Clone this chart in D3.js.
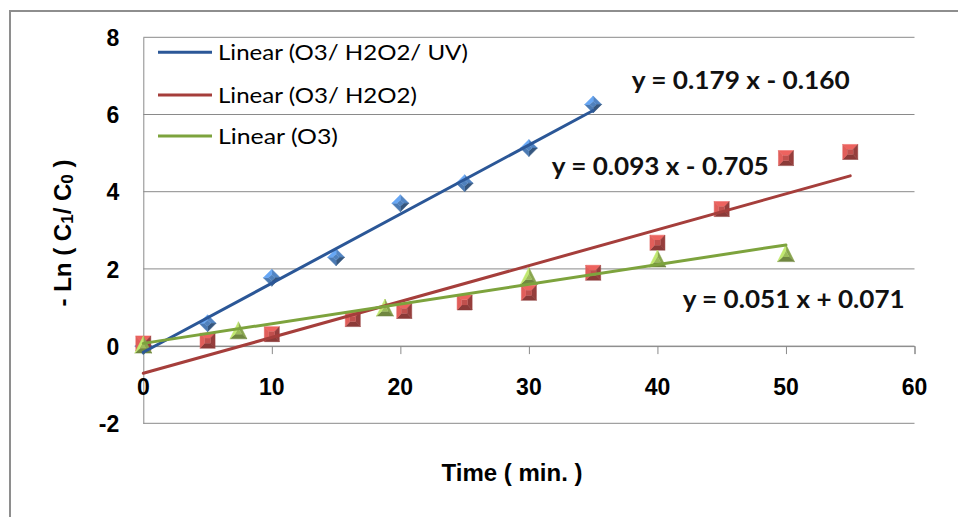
<!DOCTYPE html>
<html>
<head>
<meta charset="utf-8">
<script src="https://cdnjs.cloudflare.com/ajax/libs/d3/7.8.5/d3.min.js"></script>
<style>
    body { margin: 0; background: #fff; }
    svg { display: block; }
    .tick-label { font-family: "Liberation Sans", Arial, sans-serif; font-weight: bold; font-size: 23px; fill: #000; }
    .axis-title { font-family: "Liberation Sans", Arial, sans-serif; font-weight: bold; font-size: 24px; fill: #000; }
    .legend-text { font-family: Lato, "Open Sans", sans-serif; font-size: 22px; fill: #000; }
    .eq-text { font-family: Lato, "Open Sans", sans-serif; font-weight: bold; font-size: 24px; fill: #111; }
</style>
</head>
<body>
<div class="chart-svg"></div>
<script>
// O3 / H2O2 / UV
var timeUV = [0, 5, 10, 15, 20, 25, 30, 35];
var lnUV = [0.0, 0.59, 1.77, 2.30, 3.70, 4.22, 5.13, 6.26];

// O3 / H2O2
var timeH2O2 = [0, 5, 10, 16.3, 20.3, 25, 30, 35, 40, 45, 50, 55];
var lnH2O2 = [0.07, 0.14, 0.31, 0.70, 0.91, 1.13, 1.38, 1.90, 2.68, 3.55, 4.87, 5.03];

// O3
var timeO3 = [0, 7.4, 18.8, 30, 40, 50];
var lnO3 = [0.0, 0.37, 0.96, 1.78, 2.23, 2.37];

// trendlines as printed on the chart
var seriesNames = ["Linear (O3/ H2O2/ UV)", "Linear (O3/ H2O2)", "Linear (O3)"];
var slopes = [0.179, 0.093, 0.051];
var intercepts = [-0.160, -0.705, 0.071];

var xTicks = [0, 10, 20, 30, 40, 50, 60];
var yTicks = [-2, 0, 2, 4, 6, 8];

var width = 958, height = 517;
var padding = {top: 37.3, right: 43.5, bottom: 93.7, left: 143.3};

var svg = d3.select(".chart-svg")
    .append("svg")
    .attr("width", width)
    .attr("height", height);

// outer chart frame (only left and top edges are inside the picture)
svg.append("rect")
    .attr("x", 10).attr("y", 11)
    .attr("width", width + 20).attr("height", height + 20)
    .attr("fill", "#fff")
    .attr("stroke", "#8e8e8e")
    .attr("stroke-width", 2);

var xScale = d3.scaleLinear()
    .domain([0, 60])
    .range([padding.left, width - padding.right]);

var yScale = d3.scaleLinear()
    .domain([-2, 8])
    .range([height - padding.bottom, padding.top]);

// gridlines
svg.append("g")
    .selectAll("line")
    .data(yTicks)
    .enter()
    .append("line")
    .attr("x1", xScale(0)).attr("x2", xScale(60))
    .attr("y1", function(d){ return yScale(d); })
    .attr("y2", function(d){ return yScale(d); })
    .attr("stroke", "#8a8a8a")
    .attr("stroke-width", 1);

// y axis line, labels only (plain hyphen for negatives)
var yAxis = d3.axisLeft(yScale)
    .tickValues(yTicks)
    .tickSize(0)
    .tickPadding(24)
    .tickFormat(function(d){ return String(d); });
var yg = svg.append("g")
    .attr("transform", "translate(" + xScale(0) + ",0)")
    .call(yAxis);
yg.select(".domain").attr("stroke", "#8a8a8a");
yg.selectAll("text").attr("class", "tick-label").attr("dy", "0.36em");

// x axis crosses at y = 0, labels sit lower
var xAxis = d3.axisBottom(xScale).tickValues(xTicks).tickSize(8).tickFormat("");
var xg = svg.append("g")
    .attr("transform", "translate(0," + yScale(0) + ")")
    .call(xAxis);
xg.select(".domain").attr("stroke", "#8a8a8a");
xg.selectAll(".tick line").attr("stroke", "#8a8a8a");

svg.append("g")
    .selectAll("text")
    .data(xTicks)
    .enter()
    .append("text")
    .attr("class", "tick-label")
    .attr("x", function(d){ return xScale(d); })
    .attr("y", yScale(0) + 49)
    .attr("text-anchor", "middle")
    .text(function(d){ return d; });

// axis titles
svg.append("text")
    .attr("class", "axis-title")
    .attr("x", 512)
    .attr("y", 481)
    .attr("text-anchor", "middle")
    .text("Time ( min. )");

var yTitle = svg.append("text")
    .attr("class", "axis-title")
    .attr("transform", "translate(71,233) rotate(-90)")
    .attr("text-anchor", "middle");
yTitle.append("tspan").text("- Ln ( C");
yTitle.append("tspan").attr("font-size", "17px").attr("dy", 2).text("1");
yTitle.append("tspan").attr("dy", -2).text("/ C");
yTitle.append("tspan").attr("font-size", "17px").attr("dy", 2).text("0");
yTitle.append("tspan").attr("dy", -2).text(" )");

// beveled markers: facets shaded by their outward direction
function bevelMarker(g, cx, cy, pts, base){
    var inner = pts.map(function(p){ return [p[0] * 0.4, p[1] * 0.35]; });
    for (var i = 0; i < pts.length; i++){
        var a = pts[i], b = pts[(i + 1) % pts.length];
        var ia = inner[i], ib = inner[(i + 1) % pts.length];
        var mx = (a[0] + b[0]) / 2, my = (a[1] + b[1]) / 2;
        var len = Math.sqrt(mx * mx + my * my) || 1;
        var shade = (-mx - my * 1.3) / len;
        var c = shade > 0 ? d3.color(base).brighter(shade * 0.45) : d3.color(base).darker(-shade * 0.7);
        g.append("path")
            .attr("d", "M" + [a, b, ib, ia].map(function(p){ return (cx + p[0]) + "," + (cy + p[1]); }).join("L") + "Z")
            .attr("fill", c)
            .attr("stroke", c)
            .attr("stroke-width", 0.5);
    }
    g.append("path")
        .attr("d", "M" + inner.map(function(p){ return (cx + p[0]) + "," + (cy + p[1]); }).join("L") + "Z")
        .attr("fill", base);
}

var diamond = [[0, -8.5], [8.5, 0], [0, 8.5], [-8.5, 0]];
var square = [[-7.5, -7.5], [7.5, -7.5], [7.5, 7.5], [-7.5, 7.5]];
var triangle = [[0, -10], [8.5, 7], [-8.5, 7]];

var markers = svg.append("g");

function plotSeries(xs, ys, shape, base){
    var g = markers.append("g");
    xs.forEach(function(x, i){
        bevelMarker(g, xScale(x), yScale(ys[i]), shape, base);
    });
}

plotSeries(timeUV, lnUV, diamond, "#4f81bd");
plotSeries(timeH2O2, lnH2O2, square, "#c0504d");
plotSeries(timeO3, lnO3, triangle, "#9bbb59");

// trendlines over each series' time range
var lineColors = ["#2b5797", "#a53e3b", "#7da33d"];
var lineEnds = [d3.max(timeUV), d3.max(timeH2O2), d3.max(timeO3)];

svg.append("g")
    .selectAll("line")
    .data(slopes)
    .enter()
    .append("line")
    .attr("x1", xScale(0))
    .attr("y1", function(d, i){ return yScale(intercepts[i]); })
    .attr("x2", function(d, i){ return xScale(lineEnds[i]); })
    .attr("y2", function(d, i){ return yScale(d * lineEnds[i] + intercepts[i]); })
    .attr("stroke", function(d, i){ return lineColors[i]; })
    .attr("stroke-width", 3)
    .attr("stroke-linecap", "round");

// equation labels
function eqText(i){
    var b = intercepts[i];
    return "y = " + slopes[i].toFixed(3) + " x " + (b < 0 ? "- " : "+ ") + Math.abs(b).toFixed(3);
}
var eqPos = [[631.7, 89.3, 218], [551.7, 175, 217], [682.7, 308.3, 222]];

svg.append("g")
    .selectAll("text")
    .data(slopes)
    .enter()
    .append("text")
    .attr("class", "eq-text")
    .attr("x", function(d, i){ return eqPos[i][0]; })
    .attr("y", function(d, i){ return eqPos[i][1]; })
    .attr("textLength", function(d, i){ return eqPos[i][2]; })
    .attr("lengthAdjust", "spacingAndGlyphs")
    .text(function(d, i){ return eqText(i); });

// legend (no frame, sits on top of the plot)
var legendY = [52.3, 95, 136];
var legendLen = [250, 199, 120];
var legend = svg.append("g");

legend.selectAll("line")
    .data(seriesNames)
    .enter()
    .append("line")
    .attr("x1", 158).attr("x2", 212)
    .attr("y1", function(d, i){ return legendY[i]; })
    .attr("y2", function(d, i){ return legendY[i]; })
    .attr("stroke", function(d, i){ return lineColors[i]; })
    .attr("stroke-width", 3);

legend.selectAll("text")
    .data(seriesNames)
    .enter()
    .append("text")
    .attr("class", "legend-text")
    .attr("x", 218)
    .attr("y", function(d, i){ return legendY[i] + 7.7; })
    .attr("textLength", function(d, i){ return legendLen[i]; })
    .attr("lengthAdjust", "spacingAndGlyphs")
    .text(function(d){ return d; });
</script>
</body>
</html>
